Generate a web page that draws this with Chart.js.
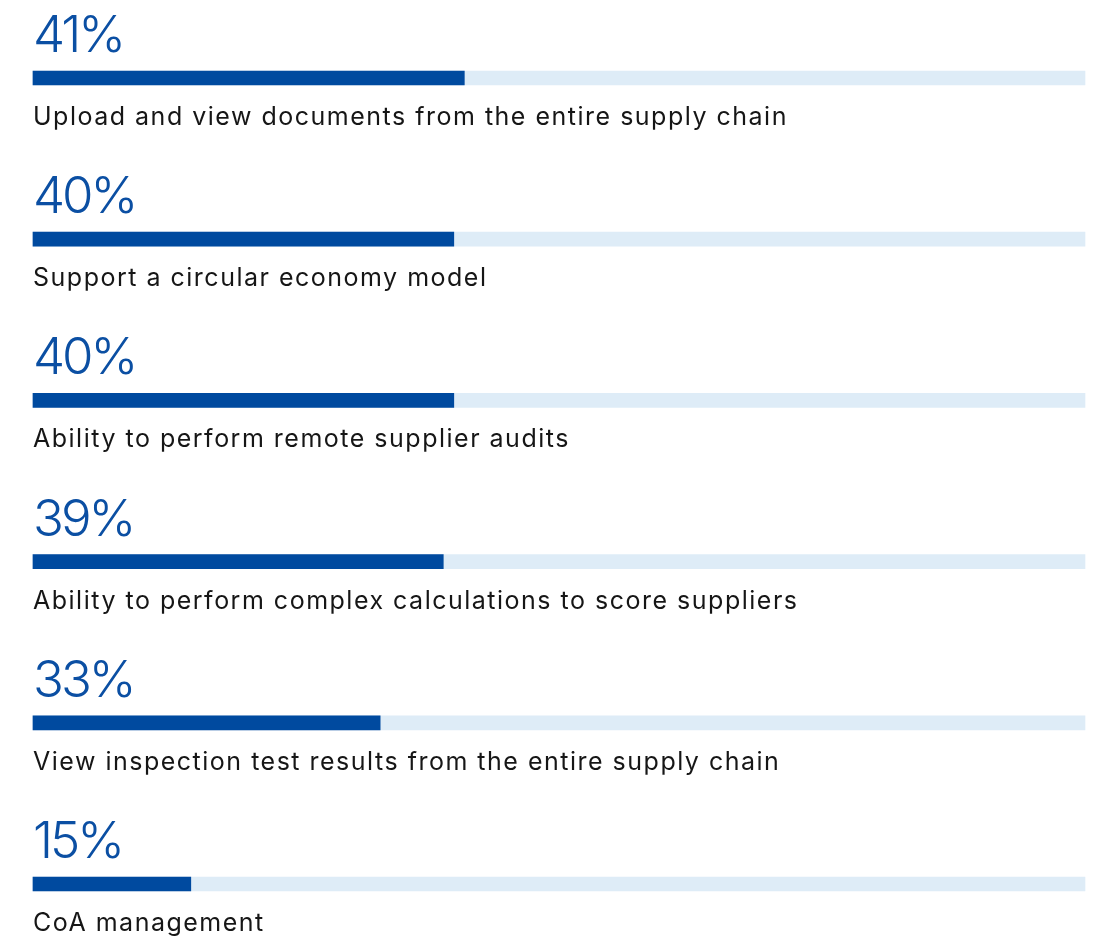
<!DOCTYPE html>
<html>
<head>
<meta charset="utf-8">
<script src="https://cdn.jsdelivr.net/npm/chart.js@4/dist/chart.umd.min.js"></script>
<style>
    html, body { margin: 0; padding: 0; background: #ffffff; }
    #wrap { width: 1120px; height: 936px; position: relative; }
</style>
</head>
<body>
<div id="wrap"><canvas id="featureChart"></canvas></div>
<script>
/* ============================================
   Feature priority bars
============================================ */

// Data
const categories = [
    'Upload and view documents from the entire supply chain',
    'Support a circular economy model',
    'Ability to perform remote supplier audits',
    'Ability to perform complex calculations to score suppliers',
    'View inspection test results from the entire supply chain',
    'CoA management'
];
const shares = [41, 40, 40, 39, 33, 15];
const trackValues = [100, 100, 100, 100, 100, 100];

// Colours
const BAR_COLOR = '#004a9f';
const TRACK_COLOR = '#deecf7';
const PCT_COLOR = '#0b4fa3';
const LABEL_COLOR = '#161616';

/**
 * Draws the big percentage above and the label under each bar
 */
const textPlugin = {
    id: 'barText',
    afterDatasetsDraw(chart) {
        const ctx = chart.ctx;
        const x0 = chart.scales.x.getPixelForValue(0);
        ctx.save();
        ctx.textAlign = 'left';
        ctx.textBaseline = 'alphabetic';
        categories.forEach((label, i) => {
            const yc = chart.scales.y.getPixelForValue(i);
            ctx.fillStyle = PCT_COLOR;
            ctx.font = '300 51px Inter, "Noto Sans", sans-serif';
            ctx.letterSpacing = '-3px';
            ctx.fillText(shares[i] + '%', x0, yc - 26);
            ctx.fillStyle = LABEL_COLOR;
            ctx.font = '400 25px Inter, sans-serif';
            ctx.letterSpacing = '1.5px';
            ctx.fillText(label, x0, yc + 47);
        });
        ctx.restore();
    }
};

const ctx = document.getElementById('featureChart');
new Chart(ctx, {
    type: 'bar',
    data: {
        labels: categories,
        datasets: [
            {
                label: 'Share',
                data: shares,
                backgroundColor: BAR_COLOR,
                barThickness: 14,
                borderWidth: 0,
                grouped: false,
                clip: false,
                order: 1
            },
            {
                label: 'Track',
                data: trackValues,
                backgroundColor: TRACK_COLOR,
                barThickness: 14,
                borderWidth: 0,
                grouped: false,
                clip: false,
                order: 2
            }
        ]
    },
    options: {
        indexAxis: 'y',
        responsive: true,
        maintainAspectRatio: false,
        animation: false,
        layout: {
            padding: { left: 33, right: 35, top: 78, bottom: 52 }
        },
        plugins: {
            legend: { display: false },
            tooltip: { enabled: false }
        },
        scales: {
            x: { display: false, min: 0, max: 100 },
            y: { display: false, offset: false }
        }
    },
    plugins: [textPlugin]
});
</script>
</body>
</html>
